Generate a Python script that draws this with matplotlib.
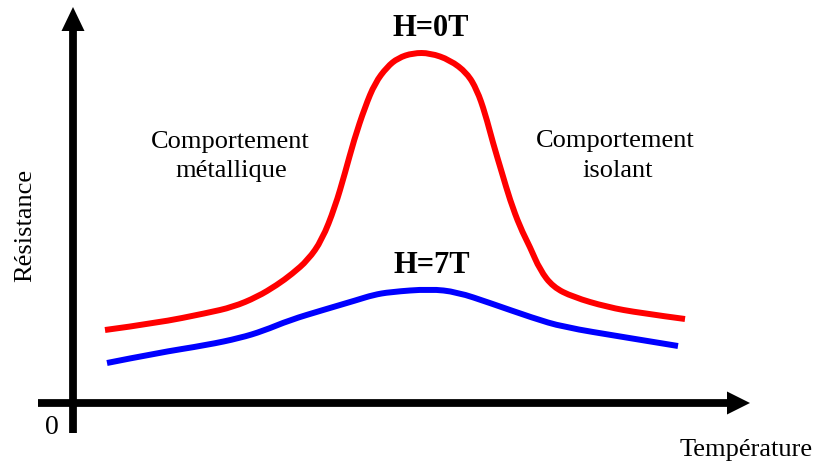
import matplotlib
matplotlib.use("Agg")
import matplotlib.pyplot as plt
from matplotlib.path import Path
from matplotlib.patches import PathPatch

# Data (arbitrary units; origin at the axes crossing)
temp_h0 = [32, 84, 134, 160, 184, 204, 219, 235, 249, 262, 272, 281, 292, 302, 314, 325,
           340, 357, 377, 394, 404, 412, 420, 429, 437, 447, 457, 467, 480, 500, 534, 567, 612]
res_h0 = [73, 80, 90, 96, 106, 118, 129, 143, 163, 196, 230, 263, 296, 320, 336, 345,
          350, 350, 343, 330, 313, 290, 260, 230, 203, 176, 156, 133, 116, 106, 96, 90, 84]
temp_h7 = [34, 84, 134, 167, 190, 217, 250, 284, 300, 317, 357, 384, 417, 460, 490, 550, 605]
res_h7 = [40, 50, 58, 65, 72, 83, 93, 103, 108, 111, 114, 111, 100, 85, 76, 66, 57]

label_h0 = "H=0T"
label_h7 = "H=7T"
xlabel = "Température"
ylabel = "Résistance"

W, H = 815, 465
fig = plt.figure(figsize=(W / 100, H / 100), dpi=100)
ax = fig.add_axes([0, 0, 1, 1])
ax.set_xlim(-73, W - 73)
ax.set_ylim(-62, H - 62)
ax.axis("off")

serif = ["Liberation Serif", "DejaVu Serif"]


def smooth_curve(xs, ys, color):
    # quadratic Bezier through midpoints, data points as control points
    pts = list(zip(xs, ys))
    verts = [pts[0]]
    codes = [Path.MOVETO]
    for i in range(1, len(pts) - 1):
        mid = ((pts[i][0] + pts[i + 1][0]) / 2, (pts[i][1] + pts[i + 1][1]) / 2)
        if i == len(pts) - 2:
            mid = pts[-1]
        verts += [pts[i], mid]
        codes += [Path.CURVE3, Path.CURVE3]
    patch = PathPatch(Path(verts, codes), facecolor="none", edgecolor=color,
                      lw=4.3, joinstyle="round", capstyle="butt")
    ax.add_patch(patch)


# Axes arrows
ax.plot([0, 0], [-30, 373], color="black", lw=5.6, solid_capstyle="butt")
ax.fill([-11.5, 11.5, 0], [372, 372, 396], color="black", lw=0)
ax.plot([-35, 655], [0, 0], color="black", lw=5.6, solid_capstyle="butt")
ax.fill([654, 654, 677], [-11.5, 11.5, 0], color="black", lw=0)

# Curves
smooth_curve(temp_h0, res_h0, "#ff0000")
smooth_curve(temp_h7, res_h7, "#0000ff")

# Labels
ax.text(358, 367, label_h0, ha="center", va="baseline", fontsize=22, fontweight="bold", family=serif)
ax.text(359, 130, label_h7, ha="center", va="baseline", fontsize=22, fontweight="bold", family=serif)
ax.text(157, 255, "Comportement", ha="center", va="baseline", fontsize=19, family=serif)
ax.text(158, 226, "métallique", ha="center", va="baseline", fontsize=19, family=serif)
ax.text(542, 256, "Comportement", ha="center", va="baseline", fontsize=19, family=serif)
ax.text(545, 226, "isolant", ha="center", va="baseline", fontsize=19, family=serif)
ax.text(-48, 178, ylabel, ha="center", va="center", rotation=90, fontsize=19, family=serif)
ax.text(673, -53, xlabel, ha="center", va="baseline", fontsize=19, family=serif)
ax.text(-21, -24, "0", ha="center", va="center", fontsize=20, family=serif)

fig.savefig("out.png", dpi=100)
